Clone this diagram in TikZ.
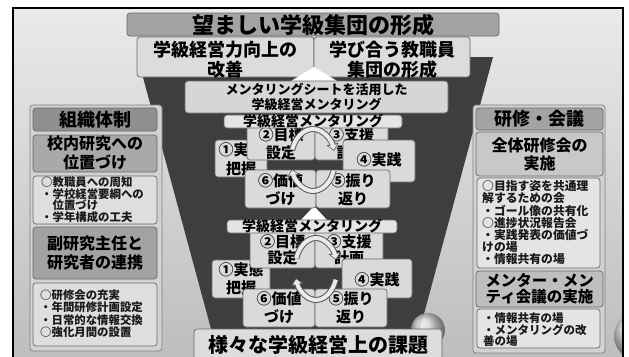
\documentclass[tikz,border=0pt]{standalone}
\usepackage{fontspec}
\setmainfont{Noto Sans CJK JP}
\usetikzlibrary{arrows.meta}
\definecolor{bgtop}{HTML}{EAEAEA}
\definecolor{bgbot}{HTML}{BDBDBD}
\definecolor{funnelc}{HTML}{3E3E3E}
\definecolor{bordc}{HTML}{6A6A6A}
\definecolor{titlec}{HTML}{A3A3A3}
\definecolor{lightc}{HTML}{DCDCDC}
\definecolor{sheetc}{HTML}{D6D6D6}
\definecolor{barc}{HTML}{E4E4E4}
\definecolor{cycc}{HTML}{DADADA}
\definecolor{panelc}{HTML}{D2D2D2}
\definecolor{hdrL}{HTML}{8F8F8F}
\definecolor{hdrR}{HTML}{A3A3A3}
\definecolor{midA}{HTML}{A9A9A9}
\definecolor{midB}{HTML}{A2A2A2}
\definecolor{midC}{HTML}{C8C8C8}
\definecolor{midD}{HTML}{BEBEBE}
\definecolor{listc}{HTML}{DEDEDE}
\definecolor{listR}{HTML}{E4E4E4}
\tikzset{
  box/.style={draw=bordc, line width=0.7pt, rounded corners=3pt, inner sep=0pt, outer sep=0pt},
  fs/.style 2 args={font=\fontsize{#1}{#2}\selectfont\bfseries},
  txt/.style={inner sep=0pt, align=center, text=black},
  lst/.style={inner sep=0pt, align=left, anchor=west, text=black!90},
  cycO/.style={line width=6pt, draw=gray!70!black, -{Triangle[width=12pt,length=7pt]}},
  cycI/.style={line width=4pt, draw=white!92!black, shorten >=1.3pt, -{Triangle[width=8.5pt,length=4.6pt]}},
}
% name, x1, y1, x2, y2, box style, text style, text y, text
\newcommand\bx[9]{%
  \node[box,#6, minimum width={(#4-#2)*1pt}, minimum height={(#5-#3)*1pt}] (#1) at ({(#2+#4)/2},{(#3+#5)/2}) {};
  \node[txt,#7] (#1t) at ({(#2+#4)/2},#8) {#9};}
% centre x, centre y, x radius, y radius
\newcommand\cyc[4]{%
  \draw[cycO] ({#1+#3*cos(200)},{#2+#4*sin(200)}) arc[start angle=200, end angle=343, x radius=#3, y radius=#4];
  \draw[cycO] ({#1+#3*cos(20)},{#2+#4*sin(20)}) arc[start angle=20, end angle=163, x radius=#3, y radius=#4];
  \draw[cycI] ({#1+#3*cos(200)},{#2+#4*sin(200)}) arc[start angle=200, end angle=343, x radius=#3, y radius=#4];
  \draw[cycI] ({#1+#3*cos(20)},{#2+#4*sin(20)}) arc[start angle=20, end angle=163, x radius=#3, y radius=#4];}
\begin{document}
\begin{tikzpicture}[x=1pt,y=-1pt]
\useasboundingbox (0,0) rectangle (629,356);
\fill[white] (0,0) rectangle (629,356);
\shade[top color=bgtop, bottom color=bgbot] (13,8) rectangle (623,360);
\begin{scope}
  \clip (13,8) rectangle (623,356);
  \shade[ball color=white!82!black, opacity=.85] (638,336) circle (24);
\end{scope}
% funnel
\fill[funnelc] (137.5,57) -- (493,57) -- (417,340) -- (214,340) -- cycle;
\shade[ball color=white!85!black, opacity=.85] (428,330) circle (17);
\draw[black, line width=1.8pt] (13,360) -- (13,8) -- (623,8) -- (623,360);

% top
\bx{title}{127}{13}{499}{36}{fill=titlec}{fs={22}{24}}{25}{望ましい学級集団の形成}
\bx{tl}{137}{37}{314}{77}{fill=lightc}{fs={18}{20}}{59.5}{学級経営力向上の\\改善}
\bx{tr}{314}{37}{470}{77}{fill=lightc}{fs={18}{20}}{59.5}{学び合う教職員\\集団の形成}
\fill[white] (291,81) coordinate (ta1) -- (314,67) coordinate (ta2) -- (337,81) coordinate (ta3) -- cycle;
\bx{sheet}{185}{81}{448}{113}{fill=sheetc}{fs={13}{15.5}}{97}{メンタリングシートを活用した\\学級経営メンタリング}

% upper cycle
\fill[white] (300,221) -- (314,206) -- (328,221) -- cycle;
\bx{ua}{215}{140}{267}{177}{fill=cycc}{fs={15}{19}}{159}{①実態\\把握}
\bx{ub}{247}{118}{315}{160}{fill=cycc}{fs={15}{18}}{144}{②目標\\設定}
\bx{uc}{315}{118}{388}{160}{fill=cycc}{fs={15}{18}}{144}{③支援\\計画}
\bx{ubar}{224}{115}{402}{128}{fill=barc}{fs={14}{16}}{121.5}{学級経営メンタリング}
\bx{ud}{343}{140}{415}{182}{fill=cycc}{fs={15}{18}}{160}{④実践}
\bx{uf}{245}{170}{316}{208}{fill=cycc}{fs={15}{18}}{190}{⑥価値\\づけ}
\bx{ue}{316}{170}{390}{208}{fill=cycc}{fs={15}{18}}{190}{⑤振り\\返り}
\cyc{313}{160}{22}{31}

% lower cycle
\bx{la}{212}{260}{270}{298}{fill=cycc}{fs={15}{18}}{278.5}{①実態\\把握}
\bx{lb}{250}{225}{315}{268}{fill=cycc}{fs={15}{16}}{250}{②目標\\設定}
\bx{lc}{315}{225}{383}{268}{fill=cycc}{fs={15}{16}}{250}{③支援\\計画}
\bx{lbar}{227}{220}{397}{233}{fill=barc}{fs={14}{16}}{226.5}{学級経営メンタリング}
\bx{ld}{342}{259}{412}{298}{fill=cycc}{fs={15}{18}}{280}{④実践}
\bx{lf}{243}{289}{315}{327}{fill=cycc}{fs={15}{18}}{308}{⑥価値\\づけ}
\bx{le}{315}{289}{387}{327}{fill=cycc}{fs={15}{18}}{308}{⑤振り\\返り}
\cyc{316}{269}{21}{31}

% bottom
\bx{bot}{194}{329}{442}{372}{fill=lightc}{fs={20}{22}}{345}{様々な学級経営上の課題}

% left panel
\bx{lp}{30}{105}{162}{351}{fill=panelc, draw=gray}{}{228}{}
\bx{lh}{33}{108}{157}{131}{fill=hdrL}{fs={18}{20}}{119.5}{組織体制}
\bx{lb1}{33}{135}{157}{172}{fill=midA}{fs={16}{19}}{152.5}{校内研究への\\位置づけ}
\bx{ll1}{33}{176}{157}{224}{fill=listc}{}{200}{}
\node[lst, fs={11.4}{11.7}] (ll1t) at (41,199.8) {○教職員への周知\\・学校経営要綱への\\　位置づけ\\・学年構成の工夫};
\bx{lb2}{33}{227}{157}{279}{fill=midB}{fs={16}{19}}{252.5}{副研究主任と\\研究者の連携}
\bx{ll2}{33}{283}{157}{346}{fill=listc}{}{314}{}
\node[lst, fs={11.4}{12.3}] (ll2t) at (40,313.8) {○研修会の充実\\・年間研修計画設定\\・日常的な情報交換\\○強化月間の設置};

% right panel
\bx{rp}{473}{105}{605}{353}{fill=panelc, draw=gray}{}{228}{}
\bx{rh}{476}{108}{603}{130}{fill=hdrR}{fs={18}{20}}{119}{研修・会議}
\bx{rb1}{476}{132}{603}{176}{fill=midC}{fs={16}{18}}{154}{全体研修会の\\実施}
\bx{rl1}{477}{178}{600}{268}{fill=listR}{}{223}{}
\node[lst, fs={11.8}{12.2}] (rl1t) at (482,222.8) {○目指す姿を共通理\\解するための会\\・ゴール像の共有化\\○進捗状況報告会\\・実践発表の価値づ\\けの場\\・情報共有の場};
\bx{rb2}{476}{271}{603}{307}{fill=midD}{fs={15.5}{16}}{288.5}{メンター・メン\\ティ会議の実施}
\bx{rl2}{477}{309}{600}{348}{fill=listR}{}{329}{}
\node[lst, fs={11.5}{11.5}] (rl2t) at (483,329.8) {・情報共有の場\\・メンタリングの改\\善の場};
\end{tikzpicture}
\end{document}
